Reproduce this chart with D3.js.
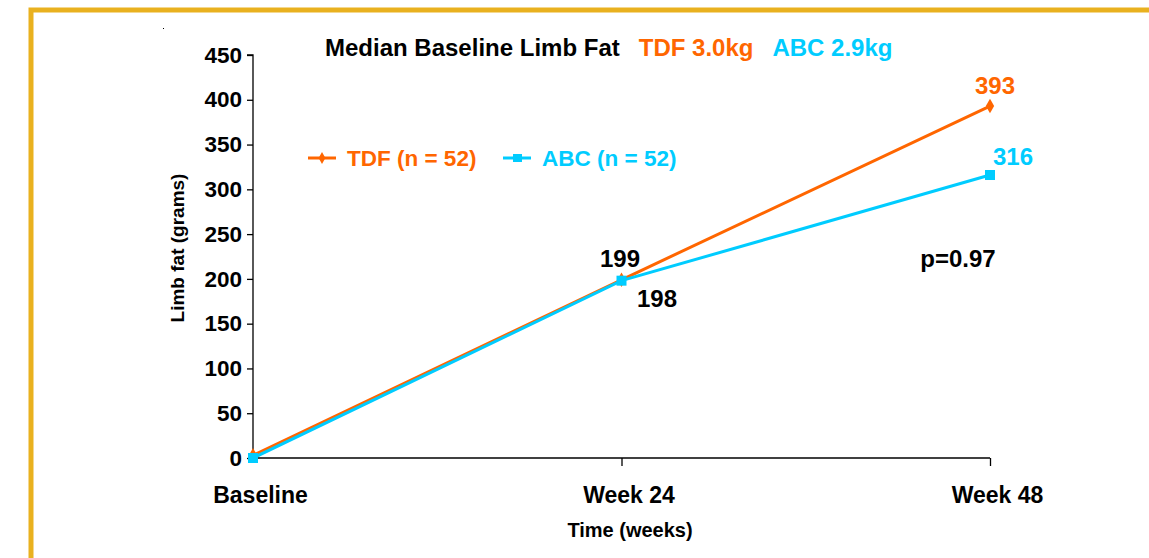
<!DOCTYPE html>
<html><head><meta charset="utf-8">
<script src="https://cdn.jsdelivr.net/npm/d3@7"></script>
<style>body{margin:0;background:#fff;}svg{display:block;font-family:"Liberation Sans",Arial,sans-serif;font-weight:bold;}</style>
</head><body>
<script>
const timepoints = ["Baseline", "Week 24", "Week 48"];
const tdfValues = [3, 199, 393];
const abcValues = [0, 198, 316];
const yTicks = [0, 50, 100, 150, 200, 250, 300, 350, 400, 450];
const seriesNames = ["TDF (n = 52)", "ABC (n = 52)"];
const orange = "#FF6600", cyan = "#00CCFF";

const W = 1149, H = 558;
const svg = d3.select("body").append("svg").attr("width", W).attr("height", H);

// frame
svg.append("path").attr("d", `M31,${H} V10 H${W}`).attr("fill", "none").attr("stroke", "#E9B11F").attr("stroke-width", 5);

const x = d3.scalePoint().domain(timepoints).range([253, 990]);
const y = d3.scaleLinear().domain([0, 450]).range([458, 55]);

const FF = "Liberation Sans, Arial, sans-serif";
// y axis
const ya = svg.append("g").attr("transform", "translate(253,0)")
  .call(d3.axisLeft(y).tickValues(yTicks).tickSize(6).tickPadding(5));
ya.select(".domain").attr("stroke", "#000").attr("stroke-width", 1.3).attr("d", `M-6,${y(450)}H0V${y(0)}`);
ya.selectAll("text").attr("font-size", 22.5).attr("font-weight", "bold").attr("fill", "#000").attr("font-family", FF);
ya.selectAll("line").attr("stroke-width", 1.3);

// x axis
const xa = svg.append("g").attr("transform", `translate(0,${y(0)})`)
  .call(d3.axisBottom(x).tickSize(8).tickPadding(21));
xa.select(".domain").attr("stroke", "#000").attr("stroke-width", 1.3).attr("d", `M253,0H990`);
xa.selectAll(".tick line").attr("stroke-width", 1.3).attr("display", (d,i)=> i===0 ? "none" : null);
xa.selectAll("text").attr("font-size", 23).attr("font-weight", "bold").attr("fill", "#000").attr("font-family", FF).attr("dx", 7);

// axis titles
svg.append("text").attr("x", 630).attr("y", 537).attr("text-anchor", "middle").attr("font-size", 20).text("Time (weeks)");
svg.append("text").attr("transform", "translate(184,248) rotate(-90)").attr("text-anchor", "middle").attr("font-size", 19).text("Limb fat (grams)");

// title
const t = svg.append("text").attr("x", 325).attr("y", 56).attr("font-size", 24);
t.append("tspan").attr("fill", "#000").text("Median Baseline Limb Fat");
t.append("tspan").attr("fill", orange).attr("dx", 19).text("TDF 3.0kg");
t.append("tspan").attr("fill", cyan).attr("dx", 19).text("ABC 2.9kg");

const line = d3.line().x((d,i)=>x(timepoints[i])).y(d=>y(d));
svg.append("path").datum(tdfValues).attr("d", line).attr("fill","none").attr("stroke", orange).attr("stroke-width", 3);
svg.append("path").datum(abcValues).attr("d", line).attr("fill","none").attr("stroke", cyan).attr("stroke-width", 3);

const diamond = d3.symbol().type(d3.symbolDiamond).size(60);
svg.selectAll(".dm").data(tdfValues).join("path").attr("transform",(d,i)=>`translate(${x(timepoints[i])},${y(d)})`).attr("d", diamond).attr("fill", orange);
svg.selectAll(".sq").data(abcValues).join("rect").attr("x",(d,i)=>x(timepoints[i])-5).attr("y",d=>y(d)-5).attr("width",10).attr("height",10).attr("fill", cyan);

// legend
const lg = svg.append("g");
lg.append("line").attr("x1",308).attr("x2",336).attr("y1",158).attr("y2",158).attr("stroke",orange).attr("stroke-width",3);
lg.append("path").attr("transform","translate(322,158)").attr("d", d3.symbol().type(d3.symbolDiamond).size(40)).attr("fill",orange);
lg.append("text").attr("x",347).attr("y",166).attr("font-size",22.5).attr("fill",orange).text(seriesNames[0]);
lg.append("line").attr("x1",503).attr("x2",531).attr("y1",158).attr("y2",158).attr("stroke",cyan).attr("stroke-width",3);
lg.append("rect").attr("x",513).attr("y",154).attr("width",9).attr("height",8).attr("fill",cyan);
lg.append("text").attr("x",542).attr("y",166).attr("font-size",22.5).attr("fill",cyan).text(seriesNames[1]);

// value labels
svg.append("text").attr("x", 620).attr("y", 267).attr("text-anchor","middle").attr("font-size",24).text(tdfValues[1]);
svg.append("text").attr("x", 657).attr("y", 307).attr("text-anchor","middle").attr("font-size",24).text(abcValues[1]);
svg.append("text").attr("x", 995).attr("y", 94).attr("text-anchor","middle").attr("font-size",24).attr("fill",orange).text(tdfValues[2]);
svg.append("text").attr("x", 1013).attr("y", 165).attr("text-anchor","middle").attr("font-size",24).attr("fill",cyan).text(abcValues[2]);
svg.append("text").attr("x", 958).attr("y", 267).attr("text-anchor","middle").attr("font-size",24).text("p=0.97");
svg.append("rect").attr("x",163).attr("y",28).attr("width",1).attr("height",1).attr("fill","#000");
</script>
</body></html>
